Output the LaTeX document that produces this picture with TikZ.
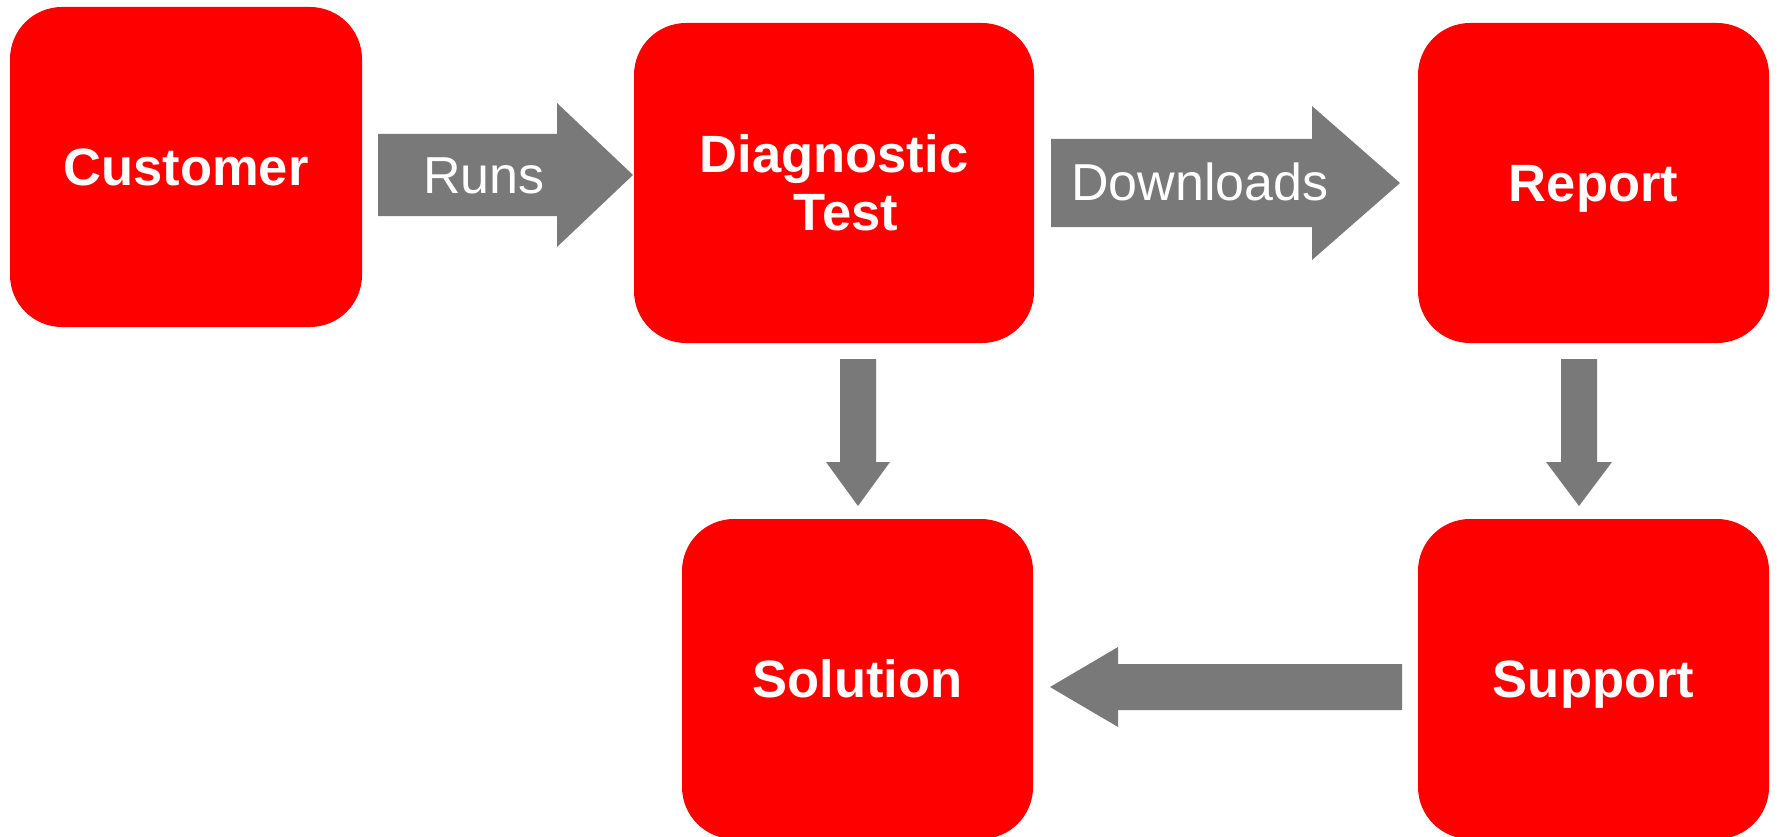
\documentclass[tikz,border=0pt]{standalone}
\usepackage{fontspec}
\setmainfont{Liberation Sans}
\usetikzlibrary{calc}
\definecolor{boxred}{HTML}{FF0000}
\definecolor{arrgray}{HTML}{797979}
\begin{document}
\begin{tikzpicture}[x=1pt,y=-1pt,
  box/.style={fill=boxred, rounded corners=52pt, inner sep=0pt, text=white,
    font=\fontsize{52.5}{58}\selectfont\bfseries, align=center},
  oneline/.style={text height=37.6pt, text depth=0pt},
  arr/.style={fill=arrgray},
  lbl/.style={text=white, font=\fontsize{52}{56}\selectfont, inner sep=0pt,
    text height=37.2pt, text depth=0pt}]
\useasboundingbox (0,0) rectangle (1779,837);

% boxes
\node[box, oneline, minimum width=352pt, minimum height=320pt] (cust) at (186,167) {Customer};
\node[box, minimum width=400pt, minimum height=320pt] (diag) at (834,183) {Diagnostic\\\hspace*{24pt}Test};
\node[box, oneline, minimum width=351pt, minimum height=320pt] (rep) at (1593.5,183) {Report};
\node[box, oneline, minimum width=351pt, minimum height=320pt] (sol) at (857.5,679) {Solution};
\node[box, oneline, minimum width=351pt, minimum height=320pt] (sup) at (1593.5,679) {Support};

% Runs arrow (cust -> diag)
\coordinate (runsTip) at (633,175);
\fill[arr] (378,134) -- (557,134) -- (557,103) -- (runsTip) -- (557,247) -- (557,216) -- (378,216) -- cycle;
\node[lbl] (runsL) at (484,175) {Runs};

% Downloads arrow (diag -> rep)
\coordinate (dlTip) at (1400,183);
\fill[arr] (1051,139) -- (1312,139) -- (1312,106) -- (dlTip) -- (1312,260) -- (1312,227) -- (1051,227) -- cycle;
\node[lbl] (dlL) at (1200,182) {Downloads};

% down arrow (diag -> sol)
\coordinate (d1Tip) at (858,506);
\fill[arr] (840,359) -- (876,359) -- (876,462) -- (890,462) -- (d1Tip) -- (826,462) -- (840,462) -- cycle;

% down arrow (rep -> sup)
\coordinate (d2Tip) at (1579,506);
\fill[arr] (1561,359) -- (1597,359) -- (1597,462) -- (1612,462) -- (d2Tip) -- (1546,462) -- (1561,462) -- cycle;

% left arrow (sup -> sol)
\coordinate (lTip) at (1050,687);
\fill[arr] (1402,664) -- (1118,664) -- (1118,647) -- (lTip) -- (1118,727) -- (1118,710) -- (1402,710) -- cycle;
\end{tikzpicture}
\end{document}
